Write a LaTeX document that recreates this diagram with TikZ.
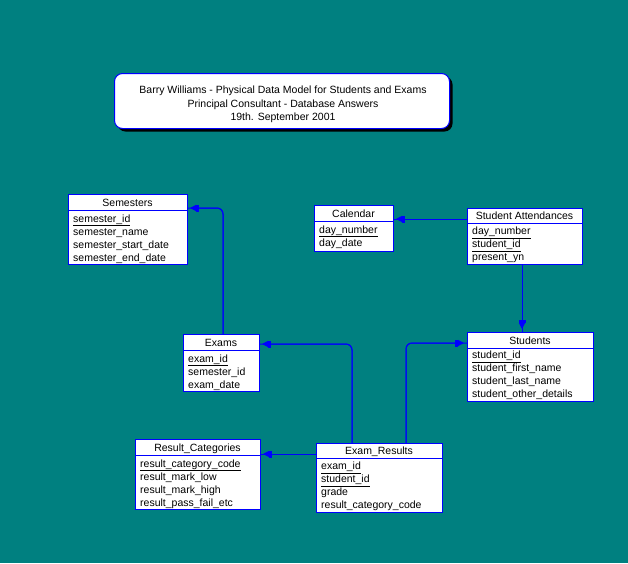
\documentclass[tikz,border=0pt]{standalone}
\usepackage{fontspec}
\setmainfont{Liberation Sans}
\usetikzlibrary{arrows.meta,shadows}
\definecolor{bgteal}{RGB}{0,128,128}
\definecolor{erblue}{RGB}{0,0,255}
\tikzset{
  tbl/.style={draw=erblue, fill=white, line width=1pt, inner sep=0pt, outer sep=0pt},
  tblline/.style={draw=erblue, line width=1pt},
  hdrtxt/.style={inner sep=0pt, anchor=base, font=\fontsize{10.5}{12}\selectfont},
  rowtxt/.style={inner sep=0pt, anchor=base west, font=\fontsize{10.5}{12}\selectfont},
  rel/.style={draw=erblue, line width=1pt, rounded corners=6pt,
    postaction={draw=erblue, line width=1pt, shorten >=3pt,
      -{Rectangle[length=3pt,width=7pt]Triangle[length=6pt,width=6pt]}}},
  titlebox/.style={draw=erblue, fill=white, line width=1pt, rounded corners=8pt,
    drop shadow={shadow xshift=3pt, shadow yshift=-3pt, fill=black, opacity=1}},
}
% name, x, y, w, h, header separator offset, title
\newcommand\erTable[7]{%
  \node[tbl, minimum width=#4pt, minimum height=#5pt, anchor=north west] (#1) at (#2,#3) {};
  \draw[tblline] ([yshift=-#6pt]#1.north west) -- ([yshift=-#6pt]#1.north east);
  \node[hdrtxt] (#1-hdr) at ([yshift={-(#6-4)*1pt}]#1.north) {#7};
}
% name, first baseline offset, row index, text
\newcommand\erRow[4]{%
  \node[rowtxt] (#1-r#3) at ([xshift=5pt,yshift={-(#2+13*#3)*1pt}]#1.north west) {#4};
}
\begin{document}
\begin{tikzpicture}[x=1pt,y=-1pt]
\fill[bgteal] (0,0) rectangle (628,563);
\useasboundingbox (0,0) rectangle (628,563);

% title
\node[titlebox, minimum width=335pt, minimum height=55pt, anchor=north west] (title) at (114,73) {};
\node[align=center, inner sep=0pt, font=\fontsize{10.5}{13.5}\selectfont] (title-text) at (283,104.5)
  {Barry Williams - Physical Data Model for Students and Exams\\Principal Consultant - Database Answers\\19th. September 2001};

% tables
\erTable{sem}{68}{194}{119}{70}{16}{Semesters}
\erRow{sem}{28}{0}{\underline{semester\_id}}
\erRow{sem}{28}{1}{semester\_name}
\erRow{sem}{28}{2}{semester\_start\_date}
\erRow{sem}{28}{3}{semester\_end\_date}

\erTable{cal}{314}{205}{79}{46}{16}{Calendar}
\erRow{cal}{28}{0}{\underline{day\_number}}
\erRow{cal}{28}{1}{day\_date}

\erTable{sa}{467}{208}{115}{56}{15}{Student Attendances}
\erRow{sa}{26.5}{0}{\underline{day\_number}}
\erRow{sa}{26.5}{1}{\underline{student\_id}}
\erRow{sa}{26.5}{2}{present\_yn}

\erTable{exm}{183}{334}{76}{57}{16}{Exams}
\erRow{exm}{28}{0}{\underline{exam\_id}}
\erRow{exm}{28}{1}{semester\_id}
\erRow{exm}{28}{2}{exam\_date}

\erTable{stu}{467}{332}{126}{69}{16}{Students}
\erRow{stu}{26.5}{0}{\underline{student\_id}}
\erRow{stu}{26.5}{1}{student\_first\_name}
\erRow{stu}{26.5}{2}{student\_last\_name}
\erRow{stu}{26.5}{3}{student\_other\_details}

\erTable{rc}{135}{439}{125}{70}{16}{Result\_Categories}
\erRow{rc}{28}{0}{\underline{result\_category\_code}}
\erRow{rc}{28}{1}{result\_mark\_low}
\erRow{rc}{28}{2}{result\_mark\_high}
\erRow{rc}{28}{3}{result\_pass\_fail\_etc}

\erTable{er}{316}{443}{126}{69}{15}{Exam\_Results}
\erRow{er}{26.5}{0}{\underline{exam\_id}}
\erRow{er}{26.5}{1}{\underline{student\_id}}
\erRow{er}{26.5}{2}{grade}
\erRow{er}{26.5}{3}{result\_category\_code}

% connectors
\draw[rel] ([xshift=40pt]exm.north west) |- ([yshift=-14pt]sem.north east);
\draw[rel] ([xshift=36pt]er.north west) |- ([yshift=-10pt]exm.north east);
\draw[rel] ([xshift=90pt]er.north west) |- ([yshift=-11pt]stu.north west);
\draw[rel] ([yshift=-11pt]er.north west) -- ([yshift=-15pt]rc.north east);
\draw[rel] ([yshift=-11pt]sa.north west) -- ([yshift=-14pt]cal.north east);
\coordinate (sa-foot) at ([xshift=55pt]sa.south west);
\draw[rel] (sa-foot) -- (sa-foot |- stu.north);
\end{tikzpicture}
\end{document}
